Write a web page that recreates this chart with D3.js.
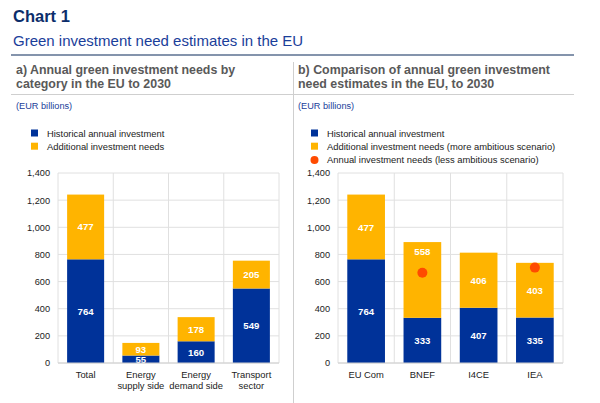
<!DOCTYPE html>
<html><head><meta charset="utf-8">
<script src="https://cdn.jsdelivr.net/npm/d3@7"></script>
<style>body{margin:0;background:#fff;font-family:Arial,"Liberation Sans",sans-serif}</style>
</head><body><svg id="c" width="600" height="403"></svg>
<script>
const catsA = ["Total", "Energy\nsupply side", "Energy\ndemand side", "Transport\nsector"];
const histA = [764, 55, 160, 549];
const addA = [477, 93, 178, 205];
const catsB = ["EU Com", "BNEF", "I4CE", "IEA"];
const histB = [764, 333, 407, 335];
const addB = [477, 558, 406, 403];
const lessB = [null, 665, null, 703];
const yTicks = [0, 200, 400, 600, 800, 1000, 1200, 1400];

const BLUE = "#003299", YEL = "#FFB400", ORG = "#FF4B00";
const svg = d3.select("#c");
const F = "Arial, 'Liberation Sans', sans-serif";

svg.append("text").attr("x", 13).attr("y", 22).text("Chart 1")
  .attr("font-family", F).attr("font-size", 16.5).attr("font-weight", "bold").attr("fill", "#0b2d6b");
svg.append("text").attr("x", 13).attr("y", 46).text("Green investment need estimates in the EU")
  .attr("font-family", F).attr("font-size", 15).attr("fill", "#1a3e9a");
svg.append("line").attr("x1", 11).attr("x2", 574).attr("y1", 55).attr("y2", 55).attr("stroke", "#0b2a5a").attr("stroke-width", 1.2);
svg.append("line").attr("x1", 11).attr("x2", 574).attr("y1", 94.5).attr("y2", 94.5).attr("stroke", "#cfcfcf").attr("stroke-width", 1);
svg.append("line").attr("x1", 293.5).attr("x2", 293.5).attr("y1", 62).attr("y2", 403).attr("stroke", "#cfcfcf").attr("stroke-width", 1);

function panel(opt) {
  const g = svg.append("g");
  opt.title.forEach((t, i) => g.append("text").attr("x", opt.tx).attr("y", 74 + i * 14).text(t)
    .attr("font-family", F).attr("font-size", 12.4).attr("font-weight", "bold").attr("fill", "#595959"));
  g.append("text").attr("x", opt.tx).attr("y", 109).text("(EUR billions)")
    .attr("font-family", F).attr("font-size", 9.2).attr("fill", "#1a3e9a");
  opt.legend.forEach((l, i) => {
    const y = 137 + i * 13.2;
    if (l.type === "dot") g.append("circle").attr("cx", opt.lx + 3.5).attr("cy", y - 3.5).attr("r", 4).attr("fill", l.color);
    else g.append("rect").attr("x", opt.lx).attr("y", y - 7.5).attr("width", 7).attr("height", 7).attr("fill", l.color);
    g.append("text").attr("x", opt.lx + 16).attr("y", y).text(l.label)
      .attr("font-family", F).attr("font-size", 9.4).attr("fill", "#222");
  });
  const x = d3.scaleBand().domain(opt.cats).range([opt.x0, opt.x1]).paddingInner(0.33).paddingOuter(0.165);
  const y = d3.scaleLinear().domain([0, 1400]).range([363, 173]);
  g.selectAll(".hg").data(yTicks).join("line").attr("x1", opt.x0).attr("x2", opt.x1)
    .attr("y1", d => y(d)).attr("y2", d => y(d)).attr("stroke", "#e0e0e0");
  const bounds = d3.range(opt.cats.length + 1).map(i => opt.x0 + i * (opt.x1 - opt.x0) / opt.cats.length);
  g.selectAll(".vg").data(bounds).join("line").attr("x1", d => d).attr("x2", d => d)
    .attr("y1", y(1400)).attr("y2", y(0)).attr("stroke", "#e0e0e0");
  const ya = g.append("g").attr("transform", `translate(${opt.x0},0)`)
    .call(d3.axisLeft(y).tickValues(yTicks).tickFormat(d3.format(",")).tickSize(0).tickPadding(8));
  ya.select(".domain").remove();
  ya.selectAll("text").attr("font-family", F).attr("font-size", 9.2).attr("fill", "#222");
  opt.cats.forEach((c, i) => {
    const h = opt.hist[i], a = opt.add[i];
    g.append("rect").attr("x", x(c)).attr("width", x.bandwidth()).attr("y", y(h)).attr("height", y(0) - y(h)).attr("fill", BLUE);
    g.append("rect").attr("x", x(c)).attr("width", x.bandwidth()).attr("y", y(h + a)).attr("height", y(h) - y(h + a)).attr("fill", YEL);
    const cx = x(c) + x.bandwidth() / 2;
    g.append("text").attr("x", cx).attr("y", y(h / 2) + 3.5).attr("text-anchor", "middle").text(h)
      .attr("font-family", F).attr("font-size", 9.6).attr("font-weight", "bold").attr("fill", "#fff");
    g.append("text").attr("x", cx).attr("y", (opt.addLabelY ? y(opt.addLabelY[i]) : y(h + a / 2)) + 3.5).attr("text-anchor", "middle").text(a)
      .attr("font-family", F).attr("font-size", 9.6).attr("font-weight", "bold").attr("fill", "#fff");
    if (opt.less && opt.less[i] != null)
      g.append("circle").attr("cx", cx).attr("cy", y(opt.less[i])).attr("r", 5).attr("fill", ORG);
  });
  g.append("line").attr("x1", opt.x0).attr("x2", opt.x1).attr("y1", y(0)).attr("y2", y(0)).attr("stroke", "#d0d0d0");
  opt.cats.forEach(c => {
    c.split("\n").forEach((t, j) => g.append("text").attr("x", x(c) + x.bandwidth() / 2).attr("y", 378 + j * 11)
      .attr("text-anchor", "middle").text(t).attr("font-family", F).attr("font-size", 9.4).attr("fill", "#222"));
  });
}

panel({
  title: ["a) Annual green investment needs by", "category in the EU to 2030"], tx: 16,
  legend: [{ label: "Historical annual investment", color: BLUE }, { label: "Additional investment needs", color: YEL }],
  lx: 31, cats: catsA, hist: histA, add: addA, x0: 58, x1: 279
});
panel({
  title: ["b) Comparison of annual green investment", "need estimates in the EU, to 2030"], tx: 298,
  legend: [{ label: "Historical annual investment", color: BLUE },
           { label: "Additional investment needs (more ambitious scenario)", color: YEL },
           { label: "Annual investment needs (less ambitious scenario)", color: ORG, type: "dot" }],
  lx: 311, cats: catsB, hist: histB, add: addB, less: lessB, x0: 338, x1: 563,
  addLabelY: [1002, 818, 605, 532]
});
</script></body></html>
